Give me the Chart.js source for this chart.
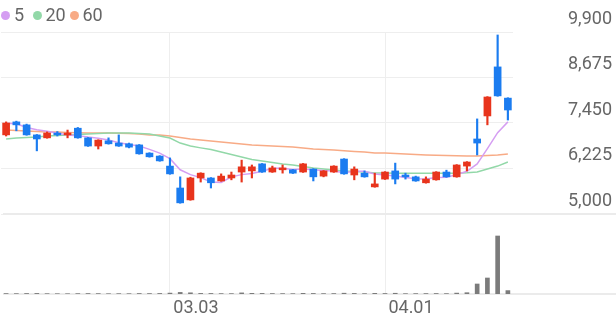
<!DOCTYPE html>
<html><head><meta charset="utf-8">
<script src="https://cdn.jsdelivr.net/npm/chart.js@4"></script>
<style>
html,body{margin:0;padding:0;background:#fff;}
#wrap{position:relative;width:616px;height:321px;overflow:hidden;}
#legend{position:absolute;left:0;top:0;width:200px;height:30px;font-family:Roboto,sans-serif;font-size:18px;color:#666;}
#legend .dot{position:absolute;width:9px;height:9px;border-radius:50%;top:11px;}
#legend .txt{position:absolute;top:4px;line-height:22px;}
</style></head><body>
<div id="wrap"><canvas id="c" width="616" height="321"></canvas><div id="legend"></div></div>
<script>
const LABELS = ['02.03','02.04','02.05','02.06','02.09','02.10','02.11','02.12','02.13','02.19','02.20','02.23','02.24','02.25','02.26','02.27',
'03.03','03.04','03.05','03.06','03.09','03.10','03.11','03.12','03.13','03.16','03.17','03.18','03.19','03.20','03.23','03.24','03.25','03.26','03.27','03.30','03.31',
'04.01','04.02','04.03','04.06','04.07','04.08','04.09','04.10','04.13','04.14','04.15','04.16','04.17'];
const OPEN  = [7130,7480,7400,7130,7050,7180,7130,7310,7050,6830,6970,6910,6890,6860,6640,6560,6290,5700,5380,5970,5970,5890,5970,6130,6160,6350,6130,6190,6190,6130,6210,6020,6130,6480,6050,6100,5730,5940,6160,6050,6000,5840,5920,6130,6000,6290,7020,7640,8960,8120];
const HIGH  = [7480,7500,7420,7140,7210,7220,7260,7330,7060,7000,7050,7130,6910,6870,6650,6570,6510,6000,5990,6110,5980,6080,6130,6450,6320,6360,6290,6320,6200,6360,6220,6170,6300,6490,6270,6160,6100,6140,6370,6100,6020,6000,6140,6180,6330,6410,7560,8160,9820,8130];
const LOW   = [7100,7240,7120,6700,7040,7100,7050,7040,6820,6750,6880,6820,6780,6610,6530,6420,6070,5290,5370,5860,5700,5880,5920,5860,5970,6120,6120,6100,6090,6120,5890,6000,6120,6070,5920,5990,5720,5930,5810,5940,5880,5830,5910,5990,5990,6160,6590,7400,8170,7530];
const CLOSE = [7450,7400,7130,7020,7180,7130,7180,7050,6830,6990,6890,6830,6800,6620,6540,6430,6080,5300,5970,6100,5840,6020,6050,6270,6270,6130,6240,6240,6100,6350,6000,6160,6290,6080,6210,6000,5810,6130,5940,6000,5890,5940,6130,6000,6320,6400,6910,8150,8180,7800];
const VOLUME = [45000,38000,52000,60000,35000,30000,28000,40000,48000,42000,30000,36000,33000,50000,45000,55000,90000,160000,120000,60000,55000,40000,38000,110000,70000,60000,45000,40000,35000,65000,55000,40000,45000,80000,60000,40000,70000,50000,75000,35000,40000,45000,50000,40000,90000,130000,1000000,1600000,5800000,340000];
const MA5  = [7440,7430,7330,7270,7230,7180,7130,7110,7070,7040,6990,6920,6870,6830,6740,6640,6490,6190,6060,5980,5860,5850,6000,6060,6090,6150,6230,6230,6200,6210,6190,6170,6160,6110,6150,6150,6080,6050,6020,5980,5950,5940,5980,5990,6060,6150,6350,6760,7190,7480];
const MA20 = [7020,7045,7060,7075,7100,7115,7125,7140,7155,7165,7180,7180,7180,7165,7155,7100,7045,6910,6830,6780,6735,6670,6600,6535,6470,6425,6385,6345,6320,6280,6240,6210,6185,6160,6145,6130,6105,6105,6100,6100,6100,6100,6100,6100,6100,6110,6130,6210,6290,6400];
const MA60 = [7260,7250,7235,7220,7210,7205,7195,7190,7180,7180,7180,7175,7170,7155,7130,7125,7100,7060,7020,6990,6965,6940,6910,6885,6860,6845,6830,6815,6805,6780,6750,6735,6720,6700,6685,6670,6645,6640,6630,6615,6600,6590,6585,6575,6565,6560,6560,6575,6590,6615];
const MA_NAMES = ['5','20','60'];
const PRICE_TICKS = [5000,6225,7450,8675,9900];
const DATE_TICKS = ['03.03','04.01'];

const UP = '#e8341c', DOWN = '#1b7cf0', VOL_COLOR = '#7b7b7b';
const MA_COLORS = ['#d59ef2','#92d8a8','#f8ab86'];
const PRICE_MAX = 9900, PRICE_BOTTOM = 5000;
const PANE_PRICE = 182, PANE_VOL = 80;
const PRICE_MIN = PRICE_BOTTOM - (PRICE_MAX - PRICE_BOTTOM) * PANE_VOL / PANE_PRICE;
const VOL_AXIS_MAX = 26200000;

// legend
const LEG_X = [1, 32.5, 69.5];
const leg = document.getElementById('legend');
MA_NAMES.forEach((n,i)=>{
  const d = document.createElement('span'); d.className='dot'; d.style.left=LEG_X[i]+'px'; d.style.background=MA_COLORS[i]; leg.appendChild(d);
  const t = document.createElement('span'); t.className='txt'; t.style.left=(LEG_X[i]+13)+'px'; t.textContent=n; leg.appendChild(t);
});

const candleColor = CLOSE.map((c,i)=> c >= OPEN[i] ? UP : DOWN);

const separators = {
  id:'separators',
  beforeDatasetsDraw(chart){
    const {ctx, chartArea, scales} = chart;
    ctx.save();
    ctx.strokeStyle = '#ebebeb'; ctx.lineWidth = 2;
    [scales.y.getPixelForValue(PRICE_BOTTOM), chartArea.bottom].forEach(py=>{
      ctx.beginPath(); ctx.moveTo(chartArea.left+2, py); ctx.lineTo(chart.width, py); ctx.stroke();
    });
    ctx.restore();
  }
};

const maDs = (data, i) => ({type:'line', label:'MA'+MA_NAMES[i], data, yAxisID:'y', borderColor:MA_COLORS[i], borderWidth:1.5, pointRadius:0, tension:0, order:3});

new Chart(document.getElementById('c'), {
  type:'bar',
  data:{
    labels: LABELS,
    datasets:[
      {label:'wick', data: LOW.map((l,i)=>[l,HIGH[i]]), yAxisID:'y', backgroundColor:candleColor, barThickness:1.5, grouped:false, order:2},
      {label:'body', data: OPEN.map((o,i)=>[o,CLOSE[i]]), yAxisID:'y', backgroundColor:candleColor, barThickness:7, grouped:false, order:1},
      {label:'volume', data: VOLUME, yAxisID:'yv', backgroundColor:VOL_COLOR, barThickness:4, grouped:false, order:1},
      maDs(MA5,0), maDs(MA20,1), maDs(MA60,2)
    ]
  },
  options:{
    responsive:false, animation:false, events:[],
    layout:{padding:{top:32,left:1,right:0,bottom:0}},
    plugins:{legend:{display:false}, tooltip:{enabled:false}},
    scales:{
      x:{
        type:'category', offset:true,
        grid:{offset:false, drawTicks:false, lineWidth:1, color: c => DATE_TICKS.includes(LABELS[c.index]) ? '#eeeeee' : 'rgba(0,0,0,0)'},
        border:{display:false},
        ticks:{autoSkip:false, maxRotation:0, minRotation:0, labelOffset:26, padding:4, color:'#666', font:{family:'Roboto', size:18},
          callback:(v,i)=> DATE_TICKS.includes(LABELS[i]) ? LABELS[i] : ''},
        afterFit: s => { s.height = 27; s.paddingLeft = 0; s.paddingRight = 0; }
      },
      y:{
        position:'right', min:PRICE_MIN, max:PRICE_MAX,
        afterBuildTicks: s => { s.ticks = PRICE_TICKS.map(v=>({value:v})); },
        afterFit: s => { s.width = 103; s.paddingTop = 0; s.paddingBottom = 0; },
        grid:{color:'#eeeeee', drawTicks:false, lineWidth:1},
        border:{display:false},
        ticks:{padding:55, crossAlign:'near', labelOffset:-13, color:'#666', font:{family:'Roboto', size:18},
          callback: v => v.toLocaleString('en-US')}
      },
      yv:{display:false, position:'left', min:0, max:VOL_AXIS_MAX}
    }
  },
  plugins:[separators]
});
</script>
</body></html>
